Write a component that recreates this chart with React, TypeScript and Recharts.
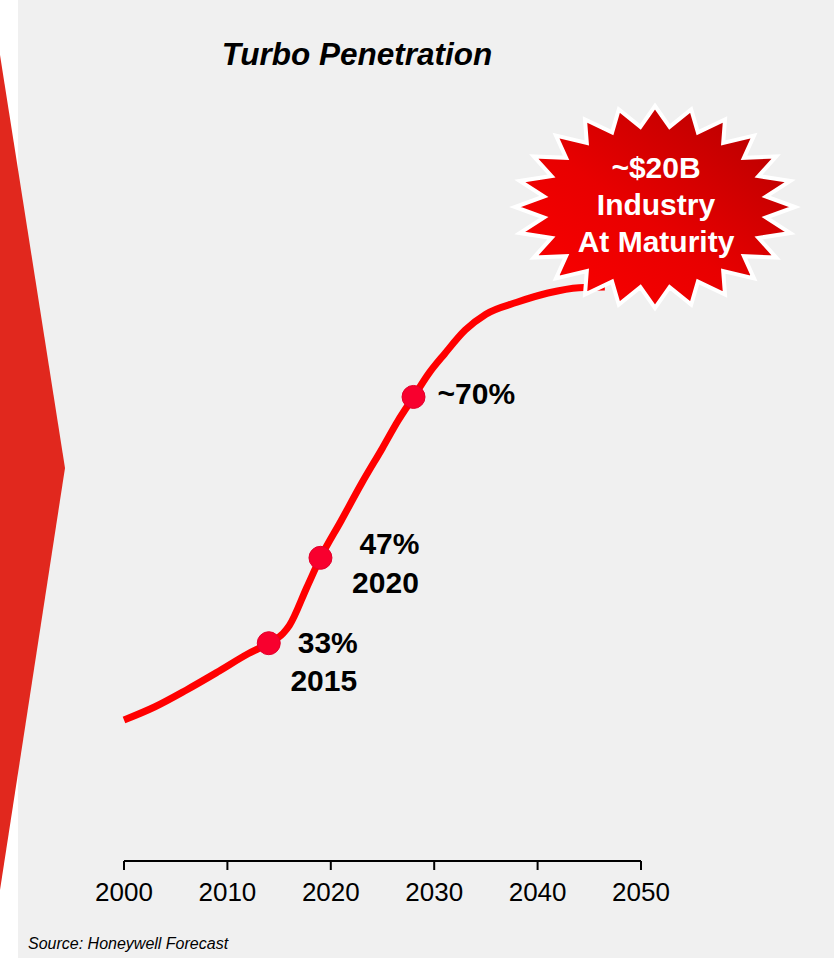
import { ComposedChart, Line, Scatter, XAxis, YAxis } from "recharts";

// penetration curve (share of new vehicles, %)
const curveYears = [2000, 2003, 2006, 2009, 2012, 2014, 2015.4, 2016, 2017.7, 2019, 2021, 2023, 2025, 2026.5, 2028, 2029.5, 2031, 2033, 2035, 2038, 2041, 2044, 2046.5];
const curveValues = [21.3, 23.3, 25.8, 28.5, 31.3, 32.9, 34.4, 35.6, 41.4, 45.8, 51.4, 57.1, 62.4, 66.5, 70.1, 73.7, 76.6, 80.2, 82.6, 84.4, 85.8, 86.6, 86.7];

// highlighted points on the curve
const milestoneYears = [2014, 2019, 2028];
const milestoneValues = [32.9, 45.8, 70.1];
const milestoneShare = ["33%", "47%", "~70%"];
const milestoneYearLabels = ["2015", "2020", ""];

const xTicks = [2000, 2010, 2020, 2030, 2040, 2050];

const title = "Turbo Penetration";
const source = "Source: Honeywell Forecast";
const burstLines = ["~$20B", "Industry", "At Maturity"];

const curve = curveYears.map((year, i) => ({ year, value: curveValues[i] }));
const milestones = milestoneYears.map((year, i) => ({ year, value: milestoneValues[i], idx: i }));

const FONT = "'Liberation Sans', Arial, Helvetica, sans-serif";
const W = 834;
const H = 958;

// label placement relative to each marker
const labelLayout = [
    { anchor: "middle", dx1: 59, dy1: 10, dx2: 55, dy2: 48 },
    { anchor: "middle", dx1: 69, dy1: -4, dx2: 65, dy2: 35 },
    { anchor: "start", dx1: 24, dy1: 7, dx2: 0, dy2: 0 },
];

const MilestoneDot = (props: any) => {
    const { cx, cy, payload } = props;
    const i = payload.idx;
    const l = labelLayout[i];
    return (
        <g>
            <circle cx={cx} cy={cy} r={11.5} fill="#f8002e" stroke="#e3002a" strokeWidth={1} />
            <text x={cx + l.dx1} y={cy + l.dy1} textAnchor={l.anchor} fontFamily={FONT} fontWeight="bold" fontSize={30} fill="#000">
                {milestoneShare[i]}
            </text>
            {milestoneYearLabels[i] && (
                <text x={cx + l.dx2} y={cy + l.dy2} textAnchor={l.anchor} fontFamily={FONT} fontWeight="bold" fontSize={30} fill="#000">
                    {milestoneYearLabels[i]}
                </text>
            )}
        </g>
    );
};

function starPoints(cx: number, cy: number, rx: number, ry: number, n: number, inner: number) {
    const pts: string[] = [];
    for (let k = 0; k < n * 2; k++) {
        const a = -Math.PI / 2 + (k * Math.PI) / n;
        const r = k % 2 === 0 ? 1 : inner;
        pts.push(`${(cx + rx * r * Math.cos(a)).toFixed(1)},${(cy + ry * r * Math.sin(a)).toFixed(1)}`);
    }
    return pts.join(" ");
}

const App = () => {
    return (
        <div style={{ position: "absolute", left: 0, top: 0, width: W, height: H, background: "#fff" }}>
            <svg width={W} height={H} style={{ position: "absolute", left: 0, top: 0 }}>
                <rect x={18} y={0} width={W - 18} height={H} fill="#f0f0f0" />
                <polygon points="0,55 65,468 0,890" fill="#e1281e" />
                <text x={357} y={65} textAnchor="middle" fontFamily={FONT} fontSize={31.5} fontWeight="bold" fontStyle="italic" fill="#000">
                    {title}
                </text>
                <text x={28} y={949} fontFamily={FONT} fontSize={16} fontStyle="italic" fill="#000">
                    {source}
                </text>
            </svg>
            <div style={{ position: "absolute", left: 0, top: 0 }}>
                <ComposedChart width={W} height={H} data={curve} margin={{ top: 199, right: 193, bottom: 67, left: 124 }}>
                    <XAxis
                        dataKey="year"
                        type="number"
                        domain={[2000, 2050]}
                        ticks={xTicks}
                        interval={0}
                        height={30}
                        axisLine={{ stroke: "#000", strokeWidth: 2 }}
                        tickLine={{ stroke: "#000", strokeWidth: 2 }}
                        tickSize={9}
                        tickMargin={13}
                        tick={{ fill: "#000", fontSize: 26, fontFamily: FONT }}
                    />
                    <YAxis hide domain={[0, 100]} />
                    <Line
                        type="monotone"
                        dataKey="value"
                        stroke="#ff0000"
                        strokeWidth={7}
                        dot={false}
                        activeDot={false}
                        isAnimationActive={false}
                    />
                    <Scatter data={milestones} dataKey="value" shape={<MilestoneDot />} isAnimationActive={false} />
                </ComposedChart>
            </div>
            <svg width={W} height={H} style={{ position: "absolute", left: 0, top: 0, pointerEvents: "none" }}>
                <defs>
                    <linearGradient id="burst" x1="0" y1="1" x2="1" y2="0">
                        <stop offset="0%" stopColor="#ff0000" />
                        <stop offset="45%" stopColor="#e80000" />
                        <stop offset="100%" stopColor="#b00000" />
                    </linearGradient>
                </defs>
                <polygon points={starPoints(655, 207, 140, 101, 24, 0.8)} fill="url(#burst)" stroke="#fff" strokeWidth={4} strokeLinejoin="miter" />
                {burstLines.map((t, i) => (
                    <text key={t} x={656} y={178 + i * 37} textAnchor="middle" fontFamily={FONT} fontSize={30} fontWeight="bold" fill="#fff">
                        {t}
                    </text>
                ))}
            </svg>
        </div>
    );
};

export default App;
